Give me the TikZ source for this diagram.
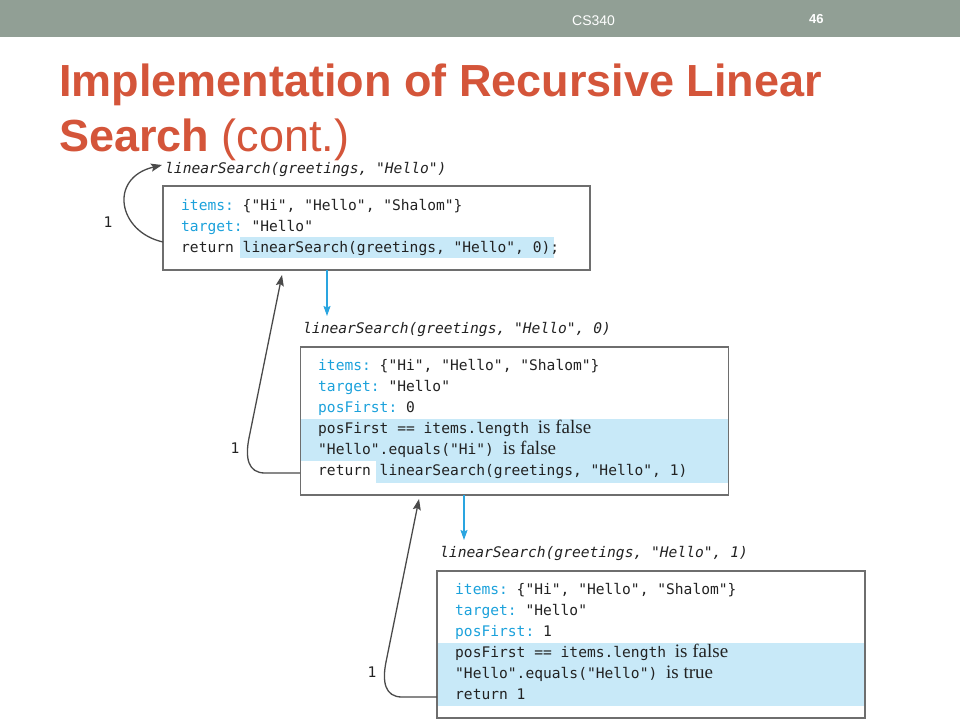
\documentclass[tikz,border=0pt]{standalone}
\usepackage{fontspec}
\setmainfont{Liberation Serif}
\setmonofont{DejaVu Sans Mono}
\newfontfamily\ttlfont{Liberation Sans}
\usetikzlibrary{arrows.meta}
\definecolor{bargray}{HTML}{919F95}
\definecolor{ttlorange}{HTML}{D4553A}
\definecolor{kwblue}{HTML}{1BA1DB}
\definecolor{hlblue}{HTML}{C8E9F8}
\definecolor{boxgray}{HTML}{6E6E6E}
\definecolor{codetext}{HTML}{222222}
\definecolor{callblue}{HTML}{2AA5E0}
\definecolor{retgray}{HTML}{4A4A4A}
\newcommand\cdfont{\fontsize{14.6}{17}\selectfont\ttfamily}
\newcommand\kw[1]{\textcolor{kwblue}{#1}}
\newcommand\srf[1]{{\fontsize{19}{20}\selectfont\rmfamily #1}}
\tikzset{
  code/.style={anchor=base west, inner sep=0pt, font=\cdfont, text=codetext},
  lbl/.style={anchor=base west, inner sep=0pt, font=\cdfont\itshape, text=codetext},
  box/.style={draw=boxgray, line width=1.3pt, inner sep=0pt, fill=none},
  hl/.style={fill=hlblue, draw=none},
  callarrow/.style={-{Stealth[length=10pt,width=7pt,inset=1.5pt]}, draw=callblue, line width=1.2pt},
  retarrow/.style={-{Stealth[length=11pt,width=8pt,inset=2pt]}, draw=retgray, line width=1.3pt},
  num/.style={font=\cdfont, text=codetext, inner sep=0pt}
}
\begin{document}
\begin{tikzpicture}[x=1pt,y=-1pt]
\useasboundingbox (0,0) rectangle (960,720);
% top bar
\fill[bargray] (0,0) rectangle (960,37);
\node[anchor=base west, inner sep=0pt, text=white, font=\ttlfont\fontsize{14}{16}\selectfont] (course) at (572,25) {CS340};
\node[anchor=base west, inner sep=0pt, text=white, font=\ttlfont\bfseries\fontsize{13}{15}\selectfont] (pg) at (809,23) {46};
% title
\node[anchor=base west, inner sep=0pt, text=ttlorange, font=\ttlfont\bfseries\fontsize{45}{50}\selectfont] (t1) at (59,96) {Implementation of Recursive Linear};
\node[anchor=base west, inner sep=0pt, text=ttlorange, font=\ttlfont\fontsize{45}{50}\selectfont] (t2) at (59,151) {\textbf{Search} (cont.)};

% highlights
\fill[hl] (240,237) rectangle (554,258);
\fill[hl] (301,419) rectangle (728,461);
\fill[hl] (376,461) rectangle (728,483);
\fill[hl] (437,643) rectangle (865,706);

% boxes
\node[box, minimum width=427pt, minimum height=84pt] (b1) at (376.5,228) {};
\node[box, minimum width=428pt, minimum height=148pt] (b2) at (514.5,421) {};
\node[box, minimum width=428pt, minimum height=147pt] (b3) at (651,644.5) {};

% labels
\node[lbl] (lab1) at (165,173) {linearSearch(greetings, "Hello")};
\node[lbl] (lab2) at (303,333) {linearSearch(greetings, "Hello", 0)};
\node[lbl] (lab3) at (440,557) {linearSearch(greetings, "Hello", 1)};

% box 1 code
\node[code] (c11) at (181,210) {\kw{items:} \{"Hi", "Hello", "Shalom"\}};
\node[code] (c12) at (181,231) {\kw{target:} "Hello"};
\node[code] (c13) at (181,252) {return linearSearch(greetings, "Hello", 0);};

% box 2 code
\node[code] (c21) at (318,370) {\kw{items:} \{"Hi", "Hello", "Shalom"\}};
\node[code] (c22) at (318,391) {\kw{target:} "Hello"};
\node[code] (c23) at (318,412) {\kw{posFirst:} 0};
\node[code] (c24) at (318,433) {posFirst == items.length \srf{is false}};
\node[code] (c25) at (318,454) {"Hello".equals("Hi") \srf{is false}};
\node[code] (c26) at (318,475) {return linearSearch(greetings, "Hello", 1)};

% box 3 code
\node[code] (c31) at (455,594) {\kw{items:} \{"Hi", "Hello", "Shalom"\}};
\node[code] (c32) at (455,615) {\kw{target:} "Hello"};
\node[code] (c33) at (455,636) {\kw{posFirst:} 1};
\node[code] (c34) at (455,657) {posFirst == items.length \srf{is false}};
\node[code] (c35) at (455,678) {"Hello".equals("Hello") \srf{is true}};
\node[code] (c36) at (455,699) {return 1};

% call arrows
\coordinate (k1s) at (327,270);
\coordinate (k1t) at (327,316);
\coordinate (k2s) at (464,495);
\coordinate (k2t) at (464,540);
\draw[callarrow] (k1s) -- (k1t);
\draw[callarrow] (k2s) -- (k2t);

% return arrows
\coordinate (r1s) at (163,242);
\coordinate (r1t) at (162,165);
\draw[retarrow] (r1s) .. controls (118,232) and (108,178) .. (r1t);
\node[num] (n1) at (108,222) {1};

\coordinate (r2s) at (300,473);
\coordinate (r2m) at (249,438);
\coordinate (r2t) at (282,275);
\draw[retarrow] (r2s) -- (265,473) .. controls (248,473) and (245,458) .. (r2m) -- (r2t);
\node[num] (n2) at (235,448) {1};

\coordinate (r3s) at (437,697);
\coordinate (r3m) at (386,662);
\coordinate (r3t) at (419,499);
\draw[retarrow] (r3s) -- (402,697) .. controls (385,697) and (382,682) .. (r3m) -- (r3t);
\node[num] (n3) at (372,672) {1};
\end{tikzpicture}
\end{document}
